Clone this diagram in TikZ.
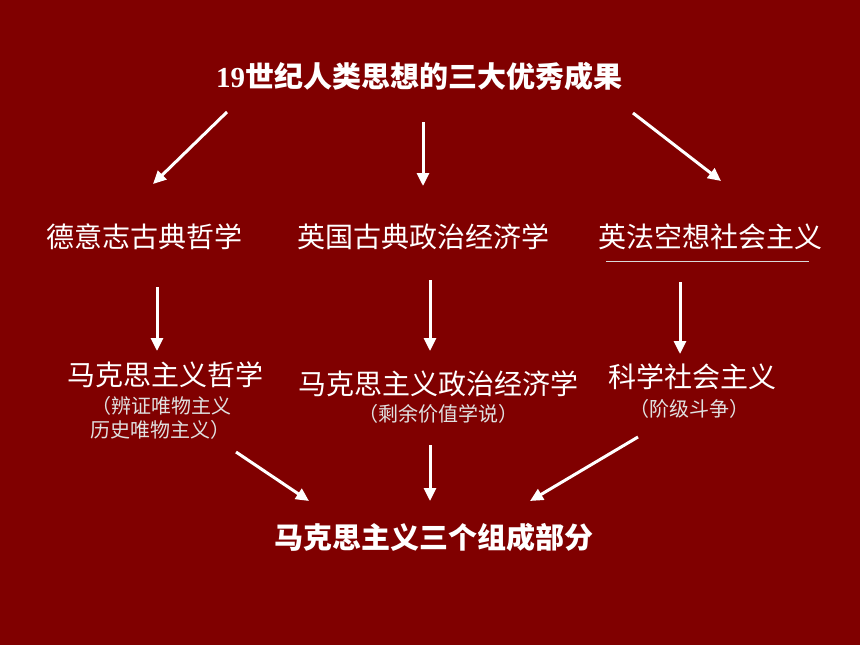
\documentclass[tikz,border=0pt]{standalone}
\usepackage{fontspec}
\setmainfont{Liberation Serif}
\newfontfamily\cjk{Noto Sans CJK SC}
\usetikzlibrary{arrows.meta}
\definecolor{slidered}{RGB}{128,0,0}
\tikzset{topic/.style={text=white,inner sep=0pt,font=\cjk\fontsize{28}{30}\selectfont}}
\tikzset{heading/.style={text=white,inner sep=0pt,font=\cjk\bfseries\fontsize{29}{31}\selectfont}}
\tikzset{subtopic/.style={text=white!88!black,inner sep=0pt,font=\cjk\fontsize{20}{22}\selectfont}}
\tikzset{flow/.style={draw=white,line width=3pt,-{Triangle[length=13pt,width=12pt]}}}

\begin{document}
\begin{tikzpicture}[x=1pt,y=-1pt]

    \fill[slidered] (0,0) rectangle (860,645);

    % headings
    \node[heading] (title) at (419,76) {{\rmfamily\bfseries 19}世纪人类思想的三大优秀成果};
    \node[heading] (parts) at (434,537) {马克思主义三个组成部分};

    % sources and parts
    \foreach \x/ \y/ \name/ \txt in {144/237/german/德意志古典哲学, 423/237/british/英国古典政治经济学, 710/237/utopia/英法空想社会主义,
        165/375/philo/马克思主义哲学, 438/384/econ/马克思主义政治经济学, 692/377/social/科学社会主义}
        \node[topic] (\name) at (\x,\y) {\txt};

    \node[subtopic, anchor=west] (philo1) at (91,406) {（辨证唯物主义};
    \node[subtopic, anchor=west] (philo2) at (90,430) {历史唯物主义）};
    \node[subtopic] (econ1) at (438,414) {（剩余价值学说）};
    \node[subtopic] (social1) at (689,409) {（阶级斗争）};

    \draw[white!85!black, line width=0.6pt] (606,261) -- (809,261);

    % arrow ends
    \foreach \name/ \x/ \y in {a1/227/112, a2/153/184, b1/423/122, b2/423/186, c1/633/113, c2/721/181,
        d1/157/287, d2/157/351, e1/430/280, e2/430/351, f1/680/282, f2/680/354,
        g1/236/452, g2/309/501, h1/430/445, h2/430/501, k1/638/437, k2/530/501}
        \coordinate (\name) at (\x,\y);

    \foreach \source/ \dest in {a1/a2, b1/b2, c1/c2, d1/d2, e1/e2, f1/f2, g1/g2, h1/h2, k1/k2}
        \draw[flow] (\source) -- (\dest);

\end{tikzpicture}
\end{document}
